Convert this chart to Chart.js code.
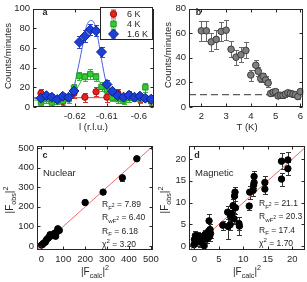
<!DOCTYPE html>
<html>
<head>
<meta charset="utf-8">
<script src="https://cdn.jsdelivr.net/npm/chart.js@4.4.1/dist/chart.umd.min.js"></script>
<style>
html, body { margin: 0; padding: 0; background: #fff; }
#wrap { position: relative; width: 307px; height: 282px; }
#wrap canvas { position: absolute; left: 0; top: 0; }
</style>
</head>
<body>
<div id="wrap">
  <canvas id="pa" width="307" height="282"></canvas>
  <canvas id="pb" width="307" height="282"></canvas>
  <canvas id="pc" width="307" height="282"></canvas>
  <canvas id="pd" width="307" height="282"></canvas>
</div>
<script>
// ---- panel a: l-scans at three temperatures ----
const lScan = [-0.6306, -0.6289, -0.6272, -0.6255, -0.6238, -0.6220, -0.6203, -0.6186, -0.6169, -0.6152, -0.6134,
               -0.6117, -0.6100, -0.6083, -0.6066, -0.6048, -0.6031, -0.6014, -0.5997, -0.5980, -0.5962];
const cnt16K = [8.9, 11.5, 9.9, 7.7, 10.9, 9.9, 16.3, 66, 72, 78.5, 77.5, 56, 23, 16, 11.5, 10, 12, 10, 11, 9, 8];
const err16K = [3, 3, 3, 3, 3, 3, 3.5, 6, 6, 5.5, 5.5, 5, 4, 3.5, 3, 3, 3, 3, 3, 3, 3];
const cnt4K = [4.5, 8, 4.5, 7, 6, 8, 19.5, 31.5, 30.5, 33.5, 30.5, 20.5, 17, 9.5, 8, 6.5, 9, 9.5, 8, 20, 6];
const err4K = [3.5, 3.5, 3.5, 3.5, 3.5, 3.5, 4, 4.5, 4.5, 5, 4.5, 4.5, 4, 3.5, 3.5, 3.5, 3.5, 3.5, 3.5, 4.5, 3.5];
const l6K = [-0.6306, -0.6272, -0.6238, -0.6203, -0.6169, -0.6134, -0.6100, -0.6066, -0.6031, -0.5997, -0.5962];
const cnt6K = [14, 6, 5.5, 14, 10, 15.5, 10, 14, 12, 10, 6];
const err6K = [4.5, 4.5, 4.5, 4.5, 4.5, 4.5, 4.5, 4.5, 4.5, 4.5, 4.5];
const fitL = [-0.6331, -0.6250, -0.6225, -0.6207, -0.6188, -0.6174, -0.6164, -0.6150, -0.6138, -0.6127, -0.6117,
              -0.6103, -0.6091, -0.6075, -0.6050, -0.5953];
const fit16K = [9, 9, 10, 16, 43, 66, 82, 88, 84, 68, 48.5, 25.6, 15.4, 11, 9.3, 9];
const fit4K = [7, 7, 8, 12, 22, 30, 34, 35.5, 33, 28, 22, 15, 11, 8.5, 7.2, 7];
const fit6KL = [-0.6331, -0.5953];
const fit6K = [9.5, 9.5];
const seriesNames = ['6 K', '4 K', '1.6 K'];
const ticksAX = [-0.62, -0.61, -0.6];
const labelsAX = ['-0.62', '-0.61', '-0.6'];
const ticksAY = [0, 20, 40, 60, 80, 100];

// ---- panel b: peak intensity vs temperature ----
const tempK = [2.0, 2.2, 2.4, 2.6, 2.8, 3.0, 3.2, 3.4, 3.6, 3.8, 4.0, 4.2, 4.3, 4.4, 4.5, 4.6, 4.7,
               4.8, 4.9, 5.0, 5.1, 5.2, 5.3, 5.4, 5.5, 5.6, 5.7, 5.8, 5.9, 6.0];
const peakCnt = [62, 62, 53, 55, 61.5, 62.5, 47, 40.5, 42.5, 46, 26, 34, 29, 23, 25, 22, 19.5,
                 11, 12, 12.5, 9, 9.5, 9.5, 10.5, 11.5, 11, 10.5, 10, 8.5, 12.5];
const peakErr = [8, 8, 7.5, 7.5, 8, 8, 6.5, 6, 6, 6.5, 4.5, 4, 3.5, 3, 3, 3, 3,
                 2, 2, 2, 2, 2, 2, 2, 2, 2, 2, 2, 2, 2];
const bgT = [1.5, 6.12];
const bgLevel = [10, 10];
const ticksBX = [2, 3, 4, 5, 6];
const ticksBY = [0, 20, 40, 60, 80];

// ---- panel c: nuclear refinement ----
const calcNuc = [0, 5, 10, 18, 22, 28, 35, 40, 45, 55, 60, 65, 70, 75, 82, 200, 282, 370, 436];
const obsNuc = [5, 8, 15, 20, 30, 38, 45, 58, 52, 55, 65, 50, 72, 88, 80, 222, 275, 348, 445];
const errNuc = [4, 4, 4, 4, 4, 5, 5, 5, 5, 5, 5, 5, 6, 6, 6, 8, 8, 16, 8];
const statsNuc = ['7.89', '6.40', '6.18', '3.20'];
const diagNuc = [-20, 510];
const ticksC = [0, 100, 200, 300, 400, 500];

// ---- panel d: magnetic refinement ----
const calcMag = [-0.1, 0.0, 0.2, 0.5, 0.8, 1.2, 1.5, 1.9, 2.0, 2.2, 2.5, 2.7, 2.9, 3.0, 3.1, 3.2, 3.3,
                 5.8, 6.8, 6.9, 7.3, 7.4, 7.6, 7.9, 8.1, 8.2, 8.3, 8.4, 9.1, 9.2,
                 11.2, 11.3, 12.0, 12.1, 12.2, 12.2, 14.4, 14.4, 17.8, 17.8, 19.1, 19.1];
const obsMag = [0.3, 1.5, 2.4, 1.0, 2.3, 0.9, 2.0, 1.6, 0.1, 2.7, 1.6, 2.6, 3.4, 5.8, 2.2, 3.8, 2.9,
                4.8, 7.8, 4.5, 4.9, 6.8, 7.5, 9.3, 6.3, 11.5, 12.4, 8.8, 5.2, 4.6,
                9.2, 12.4, 12.8, 14.0, 14.6, 16.0, 13.1, 14.6, 15.4, 19.5, 17.8, 19.8];
const errMag = [1.0, 1.2, 1.0, 0.9, 1.0, 1.0, 0.9, 1.0, 1.0, 1.0, 1.0, 1.0, 1.0, 1.5, 1.0, 1.2, 1.0,
                1.0, 1.5, 2.8, 1.2, 1.5, 1.3, 1.5, 1.2, 1.2, 1.2, 1.5, 1.5, 2.0,
                0.8, 1.5, 1.2, 1.2, 1.2, 1.2, 1.2, 1.5, 1.5, 1.8, 1.5, 1.8];
const statsMag = ['21.1', '20.3', '17.4', '1.70'];
const diagMag = [-1, 23];
const ticksD = [0, 5, 10, 15, 20];

const ink = '#262626';
const FAM = '"Liberation Sans", Arial, Helvetica, sans-serif';
Chart.defaults.font.family = FAM;
Chart.defaults.font.size = 9.5;
Chart.defaults.color = ink;
Chart.defaults.animation = false;

const pts = (xs, ys) => xs.map((x, i) => ({ x: x, y: ys[i] }));

function axis(min, max, ticks, labels, isX, size) {
  return {
    type: 'linear', min: min, max: max,
    grid: { display: false, drawTicks: false },
    border: { display: false },
    ticks: { autoSkip: false, maxRotation: 0, padding: isX ? 4 : 3,
             callback: (v, i) => labels ? labels[i] : String(v) },
    afterBuildTicks: s => { s.ticks = ticks.map(v => ({ value: v })); },
    afterFit: s => { if (isX) s.height = size; else s.width = size; }
  };
}

// box round the plot with small inward ticks on all four sides
const frame = {
  id: 'frame',
  afterDraw(chart) {
    const { ctx, chartArea: a, scales } = chart;
    ctx.save();
    ctx.strokeStyle = ink;
    ctx.lineWidth = 1;
    const L = Math.round(a.left) + 0.5, R = Math.round(a.right) - 0.5;
    const T = Math.round(a.top) + 0.5, B = Math.round(a.bottom) - 0.5;
    ctx.strokeRect(L, T, R - L, B - T);
    ctx.beginPath();
    scales.x.ticks.forEach(t => {
      const p = Math.round(scales.x.getPixelForValue(t.value)) + 0.5;
      ctx.moveTo(p, B); ctx.lineTo(p, B - 3);
      ctx.moveTo(p, T); ctx.lineTo(p, T + 3);
    });
    scales.y.ticks.forEach(t => {
      const p = Math.round(scales.y.getPixelForValue(t.value)) + 0.5;
      ctx.moveTo(L, p); ctx.lineTo(L + 3, p);
      ctx.moveTo(R, p); ctx.lineTo(R - 3, p);
    });
    ctx.stroke();
    ctx.restore();
  }
};

const errorBars = {
  id: 'errorBars',
  beforeDatasetsDraw(chart) {
    const { ctx, chartArea: a } = chart;
    const ys = chart.scales.y;
    ctx.save();
    ctx.beginPath();
    ctx.rect(a.left, a.top, a.right - a.left, a.bottom - a.top);
    ctx.clip();
    ctx.lineWidth = 1;
    chart.data.datasets.forEach((ds, i) => {
      if (!ds.errs) return;
      const meta = chart.getDatasetMeta(i);
      const c = ds.cap || 2.5;
      ctx.strokeStyle = ds.errColor || ds.borderColor;
      ctx.beginPath();
      meta.data.forEach((pt, j) => {
        const v = ds.data[j].y, e = ds.errs[j];
        const x = Math.round(pt.x) + 0.5;
        const y1 = Math.round(ys.getPixelForValue(v - e)) + 0.5;
        const y2 = Math.round(ys.getPixelForValue(v + e)) + 0.5;
        ctx.moveTo(x, y1); ctx.lineTo(x, y2);
        ctx.moveTo(x - c, y1); ctx.lineTo(x + c, y1);
        ctx.moveTo(x - c, y2); ctx.lineTo(x + c, y2);
      });
      ctx.stroke();
    });
    ctx.restore();
  }
};

// text with sub/superscripts: n normal, b sub, p sup, q sup on a sub
const STY = { n: [1, 0], b: [0.72, 0.3], p: [0.72, -0.45], q: [0.6, -0.05] };
function rich(ctx, it) {
  const s = it.size || 9.5;
  const parts = typeof it.parts === 'string' ? [[it.parts, 'n']] : it.parts;
  const font = k => (it.bold ? 'bold ' : '') + (s * STY[k][0]).toFixed(1) + 'px ' + FAM;
  let w = 0;
  parts.forEach(([t, k]) => { ctx.font = font(k); w += ctx.measureText(t).width; });
  ctx.save();
  ctx.translate(it.x, it.y);
  if (it.rot) ctx.rotate(it.rot);
  let x = it.align === 'left' ? 0 : -w / 2;
  ctx.fillStyle = ink;
  ctx.textBaseline = 'alphabetic';
  parts.forEach(([t, k]) => {
    ctx.font = font(k);
    ctx.fillText(t, x, s * 0.36 + s * STY[k][1]);
    x += ctx.measureText(t).width;
  });
  ctx.restore();
}
const texts = items => ({ id: 'texts', afterDraw(chart) { items.forEach(it => rich(chart.ctx, it)); } });

const UP = -Math.PI / 2;
const fObs = [['|F', 'n'], ['obs', 'b'], ['|', 'n'], ['2', 'p']];
const fCalc = [['|F', 'n'], ['calc', 'b'], ['|', 'n'], ['2', 'p']];
function statLines(x, y0, vals) {
  const rows = [
    [['R', 'n'], ['F', 'b'], ['2', 'q'], [' = ' + vals[0], 'n']],
    [['R', 'n'], ['wF', 'b'], ['2', 'q'], [' = ' + vals[1], 'n']],
    [['R', 'n'], ['F', 'b'], [' = ' + vals[2], 'n']],
    [['\u03c7', 'n'], ['2', 'p'], [' = ' + vals[3], 'n']]
  ];
  return rows.map((p, i) => ({ parts: p, x: x, y: y0 + i * 13.3, align: 'left', size: 8.5 }));
}

const blue = '#1d3fd6', green = '#35c935', red = '#e2241c';

// legend box of panel a
const legendA = {
  id: 'legendA',
  afterDraw(chart) {
    const ctx = chart.ctx;
    const styles = [
      { s: 'circle', r: 3.2, f: red, b: '#a51010' },
      { s: 'rect', r: 3.8, f: green, b: '#1c9a1c' },
      { s: 'rectRot', r: 5, f: blue, b: '#0c2190' }
    ];
    ctx.save();
    ctx.fillStyle = '#fff';
    ctx.fillRect(100.5, 7.5, 52, 32);
    ctx.strokeStyle = ink;
    ctx.lineWidth = 1;
    ctx.strokeRect(100.5, 7.5, 52, 32);
    seriesNames.forEach((name, i) => {
      const y = 14 + i * 10, x = 113.5;
      ctx.strokeStyle = styles[i].f;
      ctx.beginPath();
      ctx.moveTo(x, y - 4); ctx.lineTo(x, y + 4);
      ctx.moveTo(x - 2.5, y - 4); ctx.lineTo(x + 2.5, y - 4);
      ctx.moveTo(x - 2.5, y + 4); ctx.lineTo(x + 2.5, y + 4);
      ctx.stroke();
      ctx.fillStyle = styles[i].f;
      ctx.strokeStyle = styles[i].b;
      Chart.helpers.drawPoint(ctx, { pointStyle: styles[i].s, radius: styles[i].r, borderWidth: 1, rotation: 0 }, x, y);
      ctx.fillStyle = ink;
      ctx.font = '9px ' + FAM;
      ctx.textBaseline = 'middle';
      ctx.fillText(name, 127, y + 0.5);
    });
    ctx.restore();
  }
};

const marker = (label, data, errs, style, r, fill, edge, errColor) => ({
  label: label, data: data, errs: errs, errColor: errColor, showLine: false,
  pointStyle: style, pointRadius: r, backgroundColor: fill, borderColor: edge, borderWidth: 1
});
const curve = (data, color, dash) => ({
  data: data, showLine: true, pointRadius: 0, borderColor: color, borderWidth: 1,
  borderDash: dash || [], cubicInterpolationMode: 'monotone', fill: false
});
const base = (pad, xs, ys) => ({
  responsive: false, animation: false,
  layout: { autoPadding: false, padding: pad },
  plugins: { legend: { display: false }, tooltip: { enabled: false } },
  scales: { x: xs, y: ys }
});

// a
new Chart(document.getElementById('pa'), {
  type: 'scatter',
  data: { datasets: [
    marker('1.6 K', pts(lScan, cnt16K), err16K, 'rectRot', 5, blue, '#0c2190', '#2a48d0'),
    marker('4 K', pts(lScan, cnt4K), err4K, 'rect', 3.8, green, '#1c9a1c', '#39b539'),
    marker('6 K', pts(l6K, cnt6K), err6K, 'circle', 3.2, red, '#a51010', '#d8302a'),
    curve(pts(fitL, fit16K), '#4c5ee0'),
    curve(pts(fitL, fit4K), '#3db43d'),
    curve(pts(fit6KL, fit6K), '#d84848')
  ] },
  options: base({ left: 0, top: 2, right: 153, bottom: 145 },
    axis(-0.6331, -0.5953, ticksAX, labelsAX, true, 30),
    axis(0, 100, ticksAY, null, false, 33)),
  plugins: [errorBars, frame, legendA, texts([
    { parts: 'a', x: 45, y: 11.5, bold: true, size: 9 },
    { parts: 'Counts/minutes', x: 8, y: 56, rot: UP },
    { parts: 'l (r.l.u.)', x: 93.5, y: 126.5 }
  ])]
});

// b
new Chart(document.getElementById('pb'), {
  type: 'scatter',
  data: { datasets: [
    marker('peak', pts(tempK, peakCnt), peakErr, 'circle', 3.3, '#7f7f7f', '#3c3c3c', '#6a6a6a'),
    curve(pts(bgT, bgLevel), '#333', [7, 4])
  ] },
  options: base({ left: 159, top: 2, right: 2, bottom: 145 },
    axis(1.5, 6.12, ticksBX, null, true, 30),
    axis(0, 80, ticksBY, null, false, 30)),
  plugins: [errorBars, frame, texts([
    { parts: 'b', x: 198.5, y: 11.5, bold: true, size: 9 },
    { parts: 'Counts/minutes', x: 168, y: 55, rot: UP },
    { parts: 'T (K)', x: 247, y: 126.5 }
  ])]
});

// c
new Chart(document.getElementById('pc'), {
  type: 'scatter',
  data: { datasets: [
    marker('nuclear', pts(calcNuc, obsNuc), errNuc, 'circle', 3.2, '#000', '#000', '#333'),
    curve(pts(diagNuc, diagNuc), '#f06a6a')
  ] },
  options: base({ left: 7, top: 146, right: 154, bottom: 2 },
    axis(-20, 510, ticksC, null, true, 30),
    axis(-20, 510, ticksC, null, false, 30)),
  plugins: [errorBars, frame, texts([
    { parts: 'c', x: 45, y: 155, bold: true, size: 9 },
    { parts: 'Nuclear', x: 43, y: 173, align: 'left', size: 9.5 },
    { parts: fObs, x: 9, y: 200, rot: UP, size: 10 },
    { parts: fCalc, x: 95, y: 271, size: 10 }
  ].concat(statLines(102, 204, statsNuc)))]
});

// d
new Chart(document.getElementById('pd'), {
  type: 'scatter',
  data: { datasets: [
    marker('magnetic', pts(calcMag, obsMag), errMag, 'circle', 3.2, '#000', '#000', '#333'),
    curve(pts(diagMag, diagMag), '#f06a6a')
  ] },
  options: base({ left: 159, top: 146, right: 2, bottom: 2 },
    axis(-1.1, 22.6, ticksD, null, true, 30),
    axis(-0.9, 23, ticksD, null, false, 30)),
  plugins: [errorBars, frame, texts([
    { parts: 'd', x: 197, y: 155, bold: true, size: 9 },
    { parts: 'Magnetic', x: 195, y: 173, align: 'left', size: 9.5 },
    { parts: fObs, x: 164, y: 200, rot: UP, size: 10 },
    { parts: fCalc, x: 247, y: 271, size: 10 }
  ].concat(statLines(259, 203, statsMag)))]
});
</script>
</body>
</html>
